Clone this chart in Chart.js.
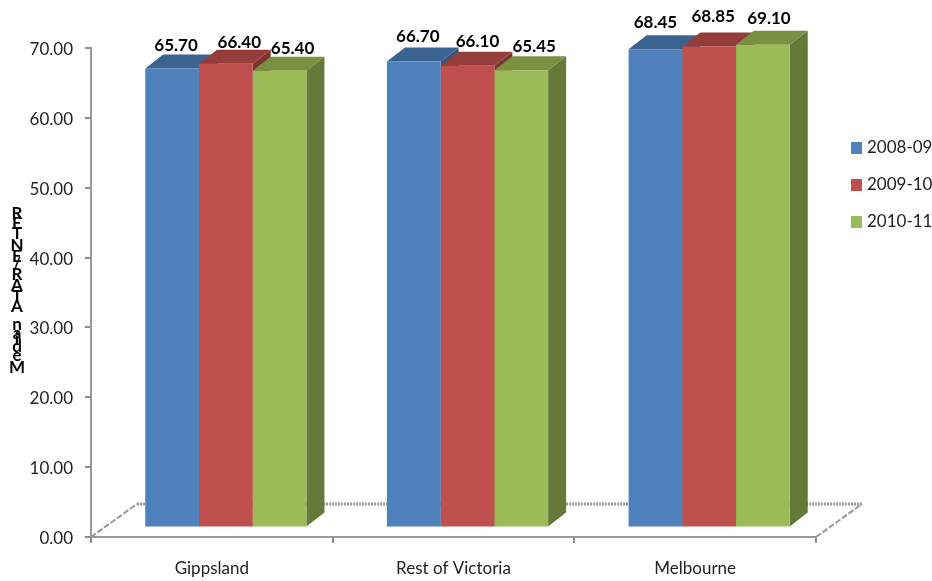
<!DOCTYPE html>
<html><head><meta charset="utf-8">
<style>html,body{margin:0;padding:0;background:#fff}#wrap{width:932px;height:581px}</style>
<script src="https://cdn.jsdelivr.net/npm/chart.js@4"></script>
</head><body><div id="wrap"><canvas id="c" width="932" height="581"></canvas></div>
<script>
const categories = ['Gippsland','Rest of Victoria','Melbourne'];
const series2008 = [65.70,66.70,68.45];
const series2009 = [66.40,66.10,68.85];
const series2010 = [65.40,65.45,69.10];
const seriesNames = ['2008-09','2009-10','2010-11'];
const yAxisTitle = 'Median ATAR/ENTER';

const frontColors = ['#4F81BD','#C0504D','#9BBB59'];
const topColors = ['#3C6390','#943D3B','#78903F'];
const sideColors = ['#34567F','#7F3331','#657A38'];
const depthX = 18, depthY = -14;      // 3D depth of the bars
const plateX = 14, plateY = -9.5;     // bars stand inside the floor
const floorX = 46, floorY = -33;      // floor depth
const labelShiftX = [[4,4,0],[13.5,10,4],[13,13,6]];
const labelShiftY = [[-23,-25,-27],[-21,-24,-30],[-22,-24,-26]];

const threeD = {
  id:'threeD',
  beforeDatasetsDraw(chart){
    const {ctx,scales:{x,y}} = chart;
    const left=x.left,right=x.right,base=y.bottom;
    ctx.save();
    ctx.strokeStyle='#999999';
    ctx.lineWidth=2;
    ctx.setLineDash([6,2]);
    [left,right].forEach(px=>{
      ctx.beginPath();ctx.moveTo(px,base);ctx.lineTo(px+floorX,base+floorY);ctx.stroke();
    });
    ctx.lineWidth=3;ctx.setLineDash([2,1]);
    ctx.beginPath();ctx.moveTo(left+floorX,base+floorY);ctx.lineTo(right+floorX,base+floorY);ctx.stroke();
    ctx.restore();
    ctx.save();
    ctx.translate(plateX,plateY);
    chart.data.datasets.forEach((ds,di)=>{
      chart.getDatasetMeta(di).data.forEach(b=>{
        const l=b.x-b.width/2,r=b.x+b.width/2,t=b.y,bt=b.base;
        ctx.fillStyle=sideColors[di];
        ctx.beginPath();ctx.moveTo(r,t);ctx.lineTo(r+depthX,t+depthY);ctx.lineTo(r+depthX,bt+depthY);ctx.lineTo(r,bt);ctx.closePath();ctx.fill();
        ctx.fillStyle=topColors[di];
        ctx.beginPath();ctx.moveTo(l,t);ctx.lineTo(l+depthX,t+depthY);ctx.lineTo(r+depthX,t+depthY);ctx.lineTo(r,t);ctx.closePath();ctx.fill();
      });
    });
  },
  afterDatasetsDraw(chart){
    const {ctx} = chart;
    ctx.restore();
    ctx.save();
    ctx.font='bold 17px Lato';ctx.fillStyle='#000';ctx.textAlign='center';ctx.textBaseline='middle';
    chart.data.datasets.forEach((ds,di)=>{
      chart.getDatasetMeta(di).data.forEach((b,i)=>{
        ctx.fillText(ds.data[i].toFixed(2),b.x+plateX+labelShiftX[di][i],b.y+plateY+labelShiftY[di][i]);
      });
    });
    ctx.font='17px Lato';ctx.textAlign='left';
    chart.data.datasets.forEach((ds,di)=>{
      const ly=148+37*di;
      ctx.fillStyle=frontColors[di];ctx.fillRect(851,ly-6,11,12);
      ctx.fillStyle='#222';ctx.fillText(ds.label,867,ly);
    });
    ctx.font='bold 17px Lato';ctx.fillStyle='#000';ctx.textAlign='center';
    let py=376;
    for(const ch of yAxisTitle){
      const w=ctx.measureText(ch).width;
      if(ch!==' ')ctx.fillText(ch,17,py-w*0.5);
      py-=w*0.98+(ch===' '?3:0);
    }
    ctx.restore();
  }
};

new Chart(document.getElementById('c'),{
  type:'bar',
  data:{labels:categories,datasets:[
    {label:seriesNames[0],data:series2008,backgroundColor:frontColors[0]},
    {label:seriesNames[1],data:series2009,backgroundColor:frontColors[1]},
    {label:seriesNames[2],data:series2010,backgroundColor:frontColors[2]}
  ]},
  options:{
    responsive:false,animation:false,
    layout:{padding:{left:0,top:48,right:116,bottom:0}},
    datasets:{bar:{categoryPercentage:0.667,barPercentage:1}},
    plugins:{legend:{display:false},tooltip:{enabled:false},title:{display:false}},
    scales:{
      x:{
        grid:{drawOnChartArea:false,color:'#8C8C8C',tickLength:6,lineWidth:2},
        border:{color:'#999999',width:2},
        ticks:{color:'#222',font:{family:'Lato',size:17},padding:15,maxRotation:0},
        afterFit(s){s.height=44;}
      },
      y:{
        min:0,max:70,
        grid:{drawOnChartArea:false,color:'#8C8C8C',tickLength:6,lineWidth:2},
        border:{color:'#999999',width:2},
        ticks:{stepSize:10,color:'#222',font:{family:'Lato',size:17},padding:12,labelOffset:1.5,callback:v=>v.toFixed(2)},
        afterFit(s){s.width=91;}
      }
    }
  },
  plugins:[threeD]
});
</script></body></html>
